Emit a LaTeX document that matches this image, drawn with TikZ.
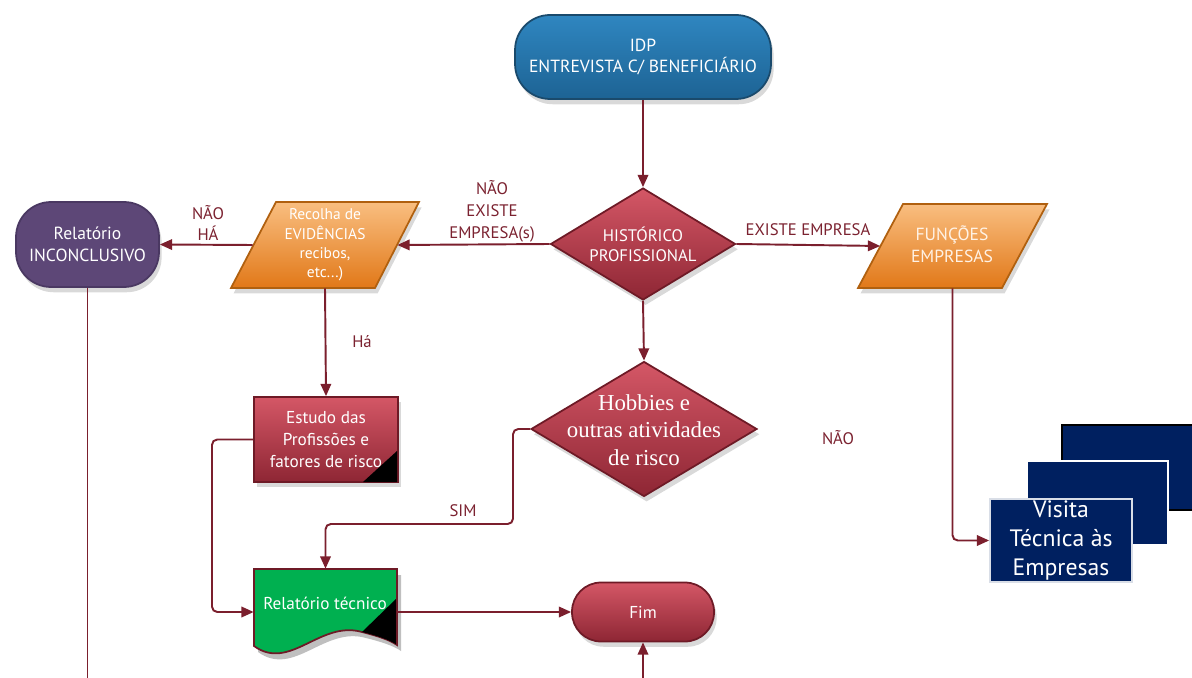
\documentclass[tikz,border=0pt]{standalone}
\usepackage{fontspec}
\setmainfont{PT Sans}
\newfontfamily\serifb{Liberation Serif}
\usetikzlibrary{shapes.geometric,arrows.meta,shadows}
\definecolor{arrc}{HTML}{7B1F2D}
\definecolor{lblc}{HTML}{7B2230}
\definecolor{bluetop}{HTML}{2F86C0}
\definecolor{bluebot}{HTML}{1D6394}
\definecolor{blueedge}{HTML}{1A4A6C}
\definecolor{redtop}{HTML}{D45766}
\definecolor{redbot}{HTML}{8E2634}
\definecolor{rededge}{HTML}{6E1A26}
\definecolor{orgtop}{HTML}{F9BE80}
\definecolor{orgbot}{HTML}{E17818}
\definecolor{orgedge}{HTML}{B0600F}
\definecolor{purp}{HTML}{5D4777}
\definecolor{purpedge}{HTML}{4A3862}
\definecolor{grn}{HTML}{00B050}
\definecolor{navy}{HTML}{002060}
\begin{document}
\begin{tikzpicture}[x=0.02cm,y=-0.02cm,
  font=\fontsize{9.5}{12}\selectfont,
  arr/.style={draw=arrc,line width=1.1pt,-{Triangle[length=7pt,width=6pt]}},
  ln/.style={draw=arrc,line width=1.1pt},
  shd/.style={drop shadow={shadow xshift=1.5pt,shadow yshift=-3pt,opacity=0.3}},
  bluebox/.style={shd,top color=bluetop,bottom color=bluebot,draw=blueedge,line width=1pt},
  redbox/.style={shd,top color=redtop,bottom color=redbot,draw=rededge,line width=1pt},
  orgfill/.style={shd,top color=orgtop,bottom color=orgbot,draw=orgedge,line width=1pt},
  anchorbox/.style={rectangle,inner sep=0pt,minimum width=2.88cm,minimum height=1.72cm},
  dmd/.style={shd,diamond,inner sep=0pt,top color=redtop,bottom color=redbot,draw=rededge,line width=1pt},
  wtxt/.style={text=white,align=center,inner sep=0pt},
  lbl/.style={text=lblc,align=center,inner sep=0pt,font=\fontsize{9.5}{12.5}\selectfont}]
\useasboundingbox (0,0) rectangle (1192,678);

% IDP
\node[bluebox,rectangle,rounded corners=0.7cm,minimum width=5.12cm,minimum height=1.68cm,
  text=white,align=center,font=\fontsize{10}{12}\selectfont] (idp) at (643,57) {IDP\\ENTREVISTA C/ BENEFICIÁRIO};

% Historico
\node[dmd,minimum width=3.7cm,minimum height=2.24cm] (hist) at (643,244) {};
\node[wtxt,font=\fontsize{9.5}{11.5}\selectfont] (histt) at (643,244) {HISTÓRICO\\PROFISSIONAL};

% Recolha (parallelogram)
\path[orgfill] (231,288) -- (375,288) -- (419,202) -- (276,202) -- cycle;
\node[anchorbox] (rec) at (325,245) {};
\node[wtxt,font=\fontsize{8.8}{11}\selectfont] (rect) at (325,245) {Recolha de\\EVIDÊNCIAS\\recibos,\\etc...)};

% Funcoes (parallelogram)
\path[orgfill] (858,288) -- (1002,288) -- (1047,204) -- (903,204) -- cycle;
\node[anchorbox,minimum height=1.68cm] (fun) at (952.5,246) {};
\node[wtxt,text=white!90!orange,font=\fontsize{10}{12.5}\selectfont] (funt) at (952,244) {FUNÇÕES\\EMPRESAS};

% Inconclusivo
\node[shd,rectangle,rounded corners=0.7cm,fill=purp,draw=purpedge,line width=1pt,
  minimum width=2.86cm,minimum height=1.7cm,text=white,align=center,
  font=\fontsize{10}{12.5}\selectfont] (inc) at (87.5,244.5) {Relatório\\INCONCLUSIVO};

% Estudo
\node[redbox,rectangle,minimum width=2.88cm,minimum height=1.7cm,text=white,align=center,
  font=\fontsize{9.8}{12.5}\selectfont,inner sep=0pt] (est) at (326,439.5) {Estudo das\\Profissões e\\fatores de risco};
\fill[black] (397,451) -- (397,482) -- (363,482) -- cycle;

% Hobbies
\node[dmd,minimum width=4.52cm,minimum height=2.7cm] (hob) at (644,429) {};
\node[wtxt,font=\serifb\fontsize{13}{15.5}\selectfont] (hobt) at (644,430) {Hobbies e\\outras atividades\\de risco};

% Relatorio tecnico (document)
\fill[black,opacity=0.25] (258,575) -- (401,575) -- (401,651)
  .. controls (394,646) and (382,642) .. (366,638)
  .. controls (324,626) and (294,678) .. (258,652) -- cycle;
\filldraw[fill=grn,draw=rededge,line width=1pt] (254,569) -- (397,569) -- (397,645)
  .. controls (390,640) and (378,636) .. (362,632)
  .. controls (320,620) and (290,672) .. (254,646) -- cycle;
\fill[black] (397,598) -- (397,645) .. controls (390,640) and (378,636) .. (362,632) -- cycle;
\draw[rededge,line width=1pt] (397,569) -- (397,645);
\node[minimum width=2.86cm,minimum height=1.72cm,inner sep=0pt] (rt) at (325.5,612) {};
\node[wtxt,font=\fontsize{9.8}{12}\selectfont] (rtt) at (325,603) {Relatório técnico};

% Fim
\node[redbox,rectangle,rounded corners=0.58cm,minimum width=2.84cm,minimum height=1.18cm,
  text=white,font=\fontsize{9.8}{12}\selectfont] (fim) at (643,612) {Fim};

% Visita
\filldraw[fill=navy,draw=black,line width=1.3pt] (1062,425) rectangle (1205,510);
\filldraw[fill=navy,draw=white,line width=1.3pt] (1027,461) rectangle (1168,545);
\node[rectangle,fill=navy,draw=white!85!navy,line width=1pt,minimum width=2.84cm,minimum height=1.66cm,
  text=white,align=center,inner sep=0pt,font=\fontsize{13.5}{16.5}\selectfont] (vis) at (1061,540.5)
  {Visita\\Técnica às\\Empresas};

% free ends
\coordinate (incend) at (87.5,678);
\coordinate (fimin) at (643,678);

% connectors
\draw[arr] (idp.south) -- (hist.north);
\draw[arr] (hist.west) -- (rec.east);
\draw[arr] (hist.east) -- (fun.west);
\draw[arr] (rec.west) -- (inc.east);
\draw[arr] (rec.south) -- (est.north);
\draw[arr] (hist.south) -- (hob.north);
\draw[arr,rounded corners=3pt] (hob.west) -| (513,524) -| (rt.north);
\draw[arr,rounded corners=3pt] (est.west) -| (212,612) -- (rt.west);
\draw[arr] (rt.east) -- (fim.west);
\draw[arr] (fimin) -- (fim.south);
\draw[arr,rounded corners=3pt] (fun.south) |- (vis.west);
\draw[ln] (inc.south) -- (incend);

% labels
\node[lbl] (l1) at (492,211) {NÃO\\EXISTE\\EMPRESA(s)};
\node[lbl] (l2) at (808,230) {EXISTE EMPRESA};
\node[lbl] (l3) at (208,223) {NÃO\\HÁ};
\node[lbl] (l4) at (362,342) {Há};
\node[lbl] (l5) at (463,511) {SIM};
\node[lbl] (l6) at (838,438) {NÃO};
\end{tikzpicture}
\end{document}
